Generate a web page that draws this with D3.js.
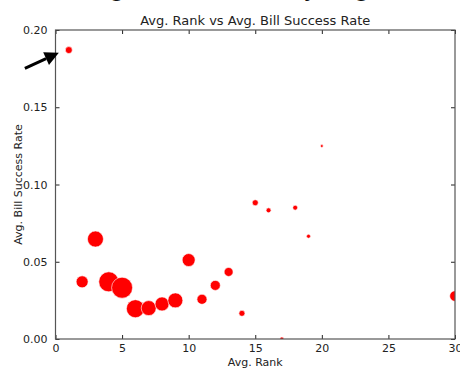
<!DOCTYPE html>
<html>
<head>
<meta charset="utf-8">
<script src="https://cdn.jsdelivr.net/npm/d3@7"></script>
<style>
body { margin: 0; background: #fff; }
svg text { font-family: "DejaVu Sans", sans-serif; fill: #222; }
</style>
</head>
<body>
<div id="chart"></div>
<script>
// avg rank, avg bill success rate, and number of members (bubble size)
var ranks = [1, 2, 3, 4, 5, 6, 7, 8, 9, 10, 11, 12, 13, 14, 15, 16, 17, 18, 19, 20, 30];
var rates = [0.187, 0.037, 0.0647, 0.037, 0.0332, 0.0196, 0.0200, 0.0227, 0.0250, 0.0511,
             0.0257, 0.0347, 0.0434, 0.0166, 0.0882, 0.0833, 0.0, 0.0850, 0.0665, 0.1249, 0.0278];
var counts = [12, 36, 64, 100, 110, 81, 56, 49, 56, 42, 25, 25, 20, 9, 9, 6, 4, 6, 4, 2, 28];
var xTicks = [0, 5, 10, 15, 20, 25, 30];
var yTicks = [0.00, 0.05, 0.10, 0.15, 0.20];
// arrow annotation (data units): tail -> head
var arrowFrom = [-2.3, 0.1752];
var arrowTo = [0.25, 0.1852];

var W = 460, H = 368;
var margin = { top: 30, right: 5, bottom: 29, left: 55.5 };
var width = W - margin.left - margin.right,
    height = H - margin.top - margin.bottom;

var data = ranks.map(function(r, i){ return { rank: r, rate: rates[i], n: counts[i] }; });

var svg = d3.select("#chart").append("svg")
    .attr("width", W).attr("height", H);

// cut-off suptitle at the very top
svg.append("text")
    .attr("x", 28).attr("y", -4)
    .style("font-size", "24px")
    .style("fill", "#111")
    .text("Ranking vs. Success (by Avg. Rank)");

var g = svg.append("g").attr("transform", "translate(" + margin.left + "," + margin.top + ")");

var x = d3.scaleLinear().domain([0, 30]).range([0, width]);
var y = d3.scaleLinear().domain([0, 0.2]).range([height, 0]);
var r = d3.scaleSqrt().domain([0, 110]).range([0, 10.5]);

svg.append("defs").append("clipPath").attr("id", "clip")
  .append("rect").attr("width", width).attr("height", height);

g.append("g").attr("clip-path", "url(#clip)")
  .selectAll("circle")
  .data(data)
  .enter().append("circle")
    .attr("cx", function(d){ return x(d.rank); })
    .attr("cy", function(d){ return y(d.rate); })
    .attr("r", function(d){ return r(d.n); })
    .attr("fill", "#ff0000")
    .attr("stroke", "#fff")
    .attr("stroke-width", 0.6);

// axes with inward ticks on all sides
function styleAxis(sel){
  sel.select(".domain").remove();
  sel.selectAll(".tick line").attr("stroke", "#222");
  sel.selectAll(".tick text").style("font-size", "11px").attr("fill", "#222");
}
g.append("g").attr("transform", "translate(0," + height + ")")
  .call(d3.axisBottom(x).tickValues(xTicks).tickSizeInner(-4).tickSizeOuter(0).tickPadding(5))
  .call(styleAxis);
g.append("g")
  .call(d3.axisTop(x).tickValues(xTicks).tickSizeInner(-4).tickSizeOuter(0).tickFormat(""))
  .call(styleAxis);
g.append("g")
  .call(d3.axisLeft(y).tickValues(yTicks).tickSizeInner(-4).tickSizeOuter(0).tickPadding(8).tickFormat(d3.format(".2f")))
  .call(styleAxis);
g.append("g").attr("transform", "translate(" + width + ",0)")
  .call(d3.axisRight(y).tickValues(yTicks).tickSizeInner(-4).tickSizeOuter(0).tickFormat(""))
  .call(styleAxis);

g.append("rect")
  .attr("width", width).attr("height", height)
  .attr("fill", "none").attr("stroke", "#555").attr("stroke-width", 1.2);

// title and labels
svg.append("text")
  .attr("x", margin.left + width / 2).attr("y", 25)
  .attr("text-anchor", "middle")
  .style("font-size", "13px")
  .text("Avg. Rank vs Avg. Bill Success Rate");
svg.append("text")
  .attr("x", margin.left + width / 2).attr("y", 366)
  .attr("text-anchor", "middle")
  .style("font-size", "11px")
  .text("Avg. Rank");
svg.append("text")
  .attr("transform", "translate(22," + (margin.top + height / 2) + ") rotate(-90)")
  .attr("text-anchor", "middle")
  .style("font-size", "11px")
  .text("Avg. Bill Success Rate");

// arrow annotation
var x0 = margin.left + x(arrowFrom[0]), y0 = margin.top + y(arrowFrom[1]);
var x1 = margin.left + x(arrowTo[0]), y1 = margin.top + y(arrowTo[1]);
var ang = Math.atan2(y1 - y0, x1 - x0);
var headLen = 14, headW = 7;
var bx = x1 - headLen * Math.cos(ang), by = y1 - headLen * Math.sin(ang);
svg.append("line")
  .attr("x1", x0).attr("y1", y0).attr("x2", bx).attr("y2", by)
  .attr("stroke", "#000").attr("stroke-width", 3);
svg.append("path")
  .attr("d", "M" + x1 + "," + y1 +
             "L" + (bx + headW * Math.sin(ang)) + "," + (by - headW * Math.cos(ang)) +
             "L" + (bx - headW * Math.sin(ang)) + "," + (by + headW * Math.cos(ang)) + "Z")
  .attr("fill", "#000");
</script>
</body>
</html>
